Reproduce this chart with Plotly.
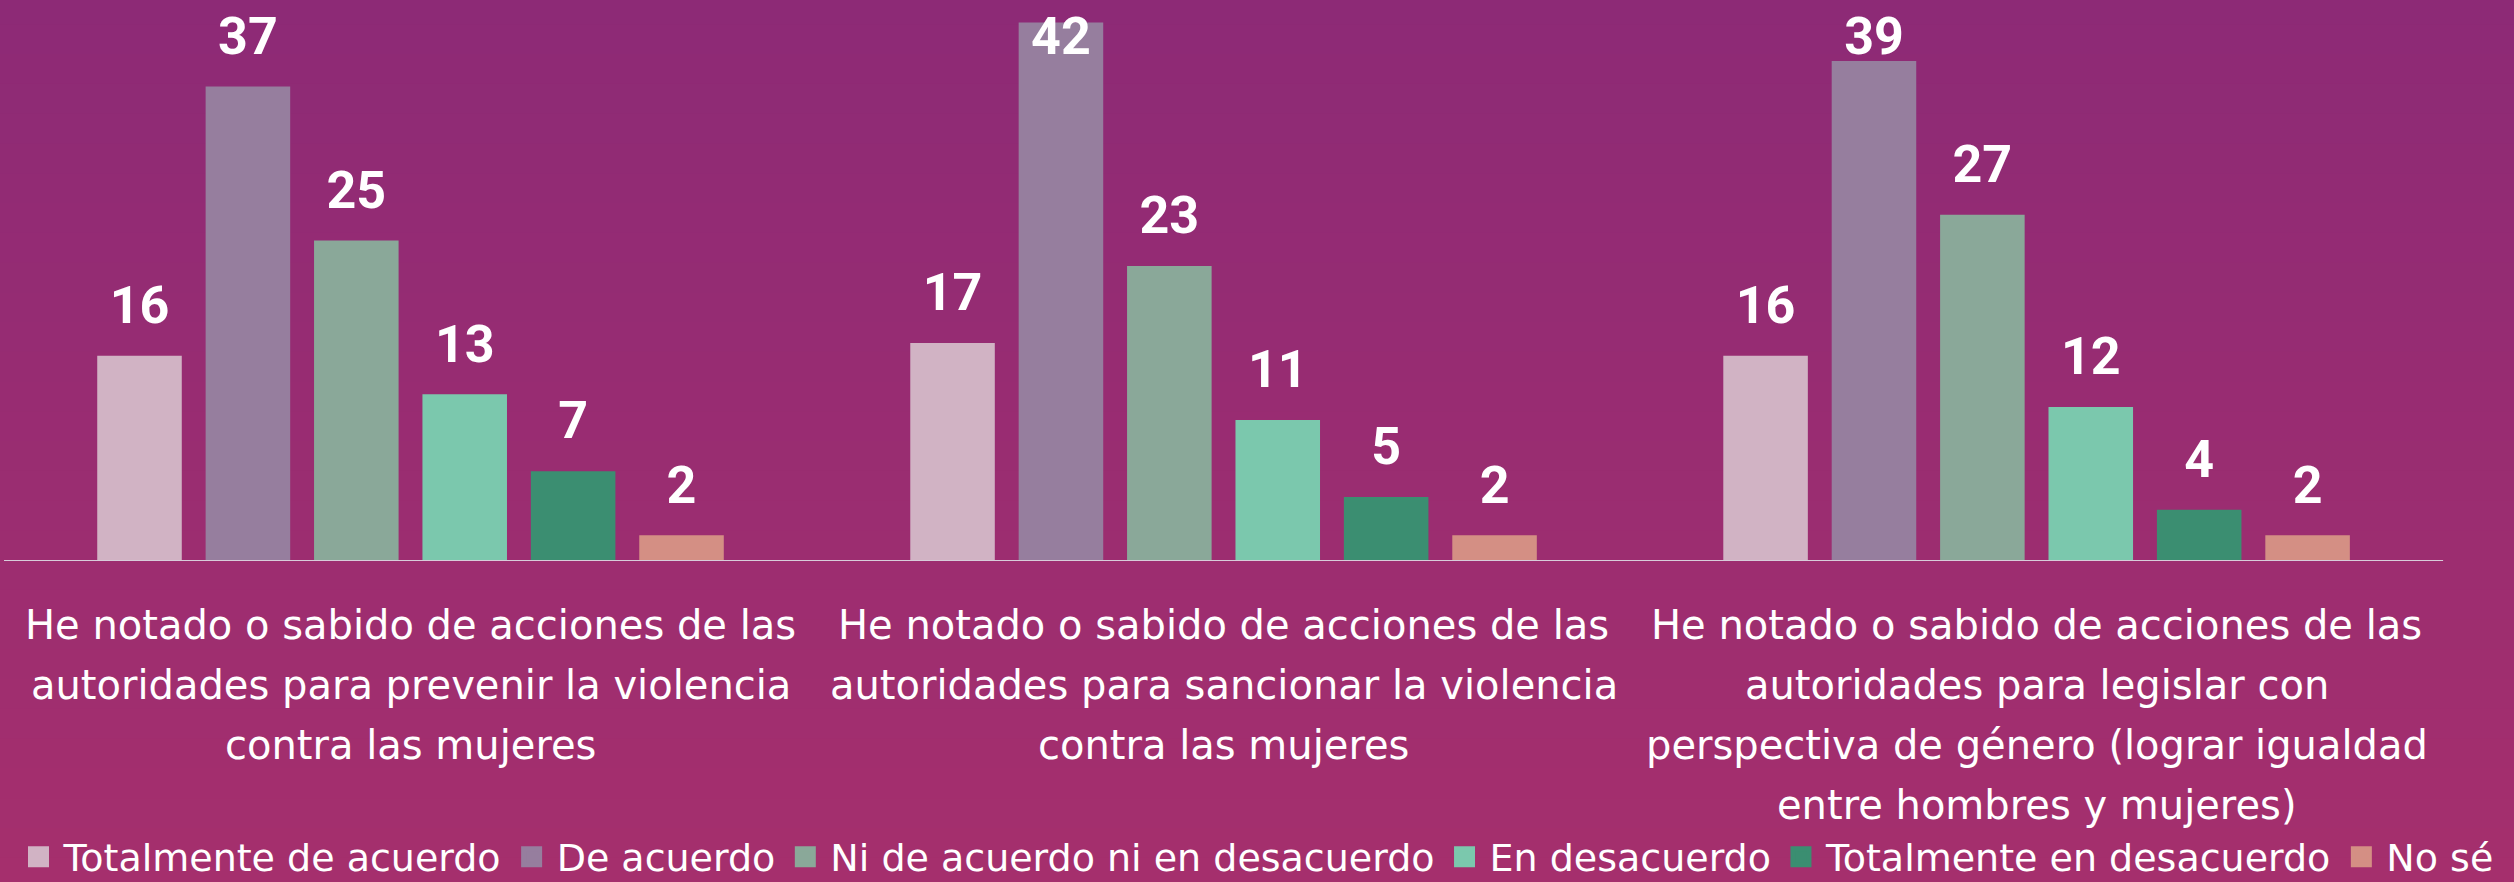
import numpy as np
import plotly.graph_objects as go

# ---------------- data ----------------
categories = [
    "He notado o sabido de acciones de las<br>autoridades para prevenir la violencia<br>contra las mujeres",
    "He notado o sabido de acciones de las<br>autoridades para sancionar la violencia<br>contra las mujeres",
    "He notado o sabido de acciones de las<br>autoridades para legislar con<br>perspectiva de género (lograr igualdad<br>entre hombres y mujeres)",
]
series_names = [
    "Totalmente de acuerdo",
    "De acuerdo",
    "Ni de acuerdo ni en desacuerdo",
    "En desacuerdo",
    "Totalmente en desacuerdo",
    "No sé",
]
totalmente_de_acuerdo = [16, 17, 16]
de_acuerdo = [37, 42, 39]
ni_de_acuerdo_ni_en_desacuerdo = [25, 23, 27]
en_desacuerdo = [13, 11, 12]
totalmente_en_desacuerdo = [7, 5, 4]
no_se = [2, 2, 2]
series_values = [
    totalmente_de_acuerdo,
    de_acuerdo,
    ni_de_acuerdo_ni_en_desacuerdo,
    en_desacuerdo,
    totalmente_en_desacuerdo,
    no_se,
]
colors = ["#D1B3C4", "#967E9E", "#8AA899", "#7BC8AD", "#3B8E71", "#D48F84"]

# ---------------- style ----------------
BG = "#9A2C6F"
BG_TOP = (141, 42, 118)
BG_BOTTOM = (165, 47, 109)
TEXT_FONT = "DejaVu Sans"
LABEL_FONT = "Roboto"
W, H = 2514, 882
M = dict(l=4, r=14, t=16, b=321, autoexpand=False)
X_RANGE = [-0.5, 2.57]
Y_MAX = 42.5
LABEL_CAP = 37.0  # value labels are kept inside the canvas

fig = go.Figure()

for i, (name, vals, col) in enumerate(zip(series_names, series_values, colors)):
    og = str(i)
    fig.add_trace(go.Bar(
        x=categories, y=vals, name=name,
        marker=dict(color=col, line=dict(width=0)),
        offsetgroup=og, alignmentgroup="g",
        showlegend=False, hoverinfo="skip",
    ))
    fig.add_trace(go.Scatter(
        x=categories, y=np.minimum(np.array(vals, dtype=float), LABEL_CAP),
        mode="markers+text",
        text=[str(v) for v in vals],
        textposition="top center",
        textfont=dict(family=LABEL_FONT, size=52, color="white", weight="bold"),
        marker=dict(size=30, opacity=0, color=col),
        offsetgroup=og, alignmentgroup="g",
        cliponaxis=False, showlegend=False, hoverinfo="skip",
    ))
    fig.add_trace(go.Scatter(
        x=[None], y=[None], mode="markers", name=name,
        marker=dict(symbol="square", size=16, color=col, line=dict(width=5, color=col)),
        offsetgroup=og, alignmentgroup="g",
        showlegend=True, hoverinfo="skip",
    ))

# category labels, one annotation per line
annotations = []
for cat in categories:
    for j, line in enumerate(cat.split("<br>")):
        annotations.append(dict(
            x=cat, xref="x", y=0, yref="paper",
            text=line, showarrow=False,
            xanchor="center", yanchor="middle",
            yshift=-64 - 60 * j,
            font=dict(family=TEXT_FONT, size=40, color="white"),
        ))

# soft vertical background gradient (decoration, paper coordinates)
pw = W - M["l"] - M["r"]
ph = H - M["t"] - M["b"]
x0p, x1p = -M["l"] / pw - 0.01, 1 + M["r"] / pw + 0.01
ybot, ytop = -M["b"] / ph - 0.01, 1 + M["t"] / ph + 0.01
n_bands = 30
shapes = []
for k in range(n_bands):
    f = k / (n_bands - 1)
    c = tuple(round(a + (b - a) * f) for a, b in zip(BG_TOP, BG_BOTTOM))
    y1 = ytop - (ytop - ybot) * k / n_bands
    y0 = ytop - (ytop - ybot) * (k + 1) / n_bands
    shapes.append(dict(
        type="rect", xref="paper", yref="paper",
        x0=x0p, x1=x1p, y0=y0 - 0.002, y1=y1,
        fillcolor="rgb(%d,%d,%d)" % c, line=dict(width=0), layer="below",
    ))
# baseline (x axis line) across the category span
shapes.append(dict(
    type="line", xref="x", yref="y", x0=-0.5, x1=len(categories) - 0.5, y0=0, y1=0,
    line=dict(color="#D8CCDA", width=2), layer="above",
))

fig.update_layout(
    width=W, height=H,
    margin=M,
    paper_bgcolor=BG, plot_bgcolor="rgba(0,0,0,0)",
    barmode="group", bargap=0.2, bargroupgap=0.22,
    scattermode="group", scattergap=0.2,
    annotations=annotations,
    shapes=shapes,
    showlegend=True,
    legend=dict(
        orientation="h", x=0.0038, xanchor="left", y=-0.543, yanchor="middle",
        font=dict(family=TEXT_FONT, size=38, color="white"),
        itemwidth=40,
        bgcolor="rgba(0,0,0,0)", borderwidth=0,
        itemclick=False, itemdoubleclick=False,
    ),
    xaxis=dict(
        type="category", range=X_RANGE, showline=False,
        showticklabels=False, showgrid=False, ticks="", zeroline=False,
    ),
    yaxis=dict(range=[0, Y_MAX], visible=False, showgrid=False, zeroline=False),
)

fig.write_html(
    "out.html",
    config={"displayModeBar": False},
    post_script="document.body.style.margin='0';document.body.style.overflow='hidden';",
)
